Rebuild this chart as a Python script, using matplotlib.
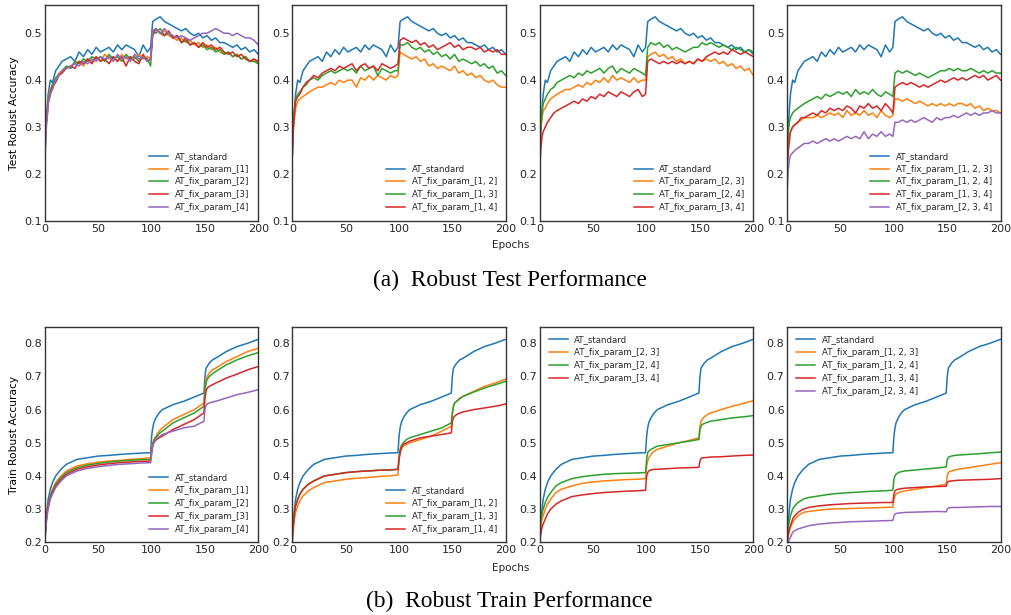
import matplotlib
matplotlib.use("Agg")
import matplotlib.pyplot as plt

plt.rcParams["font.family"] = ["DejaVu Sans"]
plt.rcParams["axes.edgecolor"] = "#333333"
plt.rcParams["text.color"] = "#262626"
plt.rcParams["xtick.color"] = "#262626"
plt.rcParams["ytick.color"] = "#262626"

# ---- robust test accuracy (top row) ----
test_epochs = [0, 1, 2, 3, 5, 7, 10, 13, 16,
               20, 24, 28, 32, 36, 40, 44, 48, 52, 56, 60, 64, 68, 72, 76, 80, 84, 88, 92, 96,
               99, 101,
               104, 108, 112, 116, 120, 124, 128, 132, 136, 140, 144, 148, 152, 156, 160, 164,
               168, 172, 176, 180, 184, 188, 192, 196, 200]

test_standard = [0.24, 0.30, 0.34, 0.37, 0.40, 0.395, 0.42, 0.43, 0.44,
                 0.445, 0.45, 0.44, 0.46, 0.45, 0.465, 0.455, 0.47, 0.46, 0.465, 0.47, 0.46, 0.475, 0.465, 0.475, 0.47, 0.465, 0.45, 0.475, 0.46,
                 0.47, 0.525,
                 0.53, 0.535, 0.525, 0.52, 0.515, 0.51, 0.505, 0.51, 0.50, 0.495, 0.50, 0.49, 0.495, 0.485, 0.49, 0.48, 0.48, 0.475, 0.47, 0.475, 0.465, 0.47, 0.46, 0.465, 0.455]

test_p1 = [0.25, 0.30, 0.33, 0.36, 0.38, 0.39, 0.40, 0.415, 0.42,
           0.425, 0.43, 0.435, 0.44, 0.43, 0.445, 0.44, 0.45, 0.44, 0.455, 0.445, 0.45, 0.44, 0.455, 0.445, 0.45, 0.445, 0.455, 0.445, 0.45,
           0.445, 0.50,
           0.51, 0.50, 0.505, 0.495, 0.49, 0.485, 0.49, 0.48, 0.485, 0.475, 0.48, 0.47, 0.475, 0.465, 0.47, 0.46, 0.455, 0.46, 0.45, 0.455, 0.445, 0.45, 0.44, 0.445, 0.435]
test_p2 = [0.26, 0.31, 0.33, 0.36, 0.375, 0.39, 0.405, 0.41, 0.42,
           0.43, 0.425, 0.44, 0.435, 0.445, 0.44, 0.45, 0.445, 0.45, 0.44, 0.455, 0.445, 0.45, 0.44, 0.455, 0.445, 0.45, 0.44, 0.45, 0.445,
           0.43, 0.505,
           0.50, 0.51, 0.495, 0.50, 0.49, 0.495, 0.48, 0.485, 0.475, 0.48, 0.47, 0.475, 0.465, 0.47, 0.46, 0.465, 0.455, 0.46, 0.45, 0.455, 0.445, 0.45, 0.44, 0.44, 0.435]
test_p3 = [0.27, 0.31, 0.32, 0.35, 0.37, 0.385, 0.395, 0.41, 0.415,
           0.425, 0.43, 0.425, 0.44, 0.435, 0.445, 0.435, 0.45, 0.44, 0.445, 0.435, 0.45, 0.44, 0.45, 0.43, 0.45, 0.44, 0.435, 0.455, 0.44,
           0.445, 0.495,
           0.51, 0.50, 0.495, 0.505, 0.49, 0.495, 0.48, 0.49, 0.475, 0.48, 0.47, 0.48, 0.47, 0.475, 0.465, 0.47, 0.46, 0.455, 0.46, 0.45, 0.455, 0.445, 0.44, 0.445, 0.44]
test_p4 = [0.23, 0.29, 0.32, 0.35, 0.37, 0.38, 0.40, 0.41, 0.42,
           0.425, 0.43, 0.435, 0.43, 0.44, 0.435, 0.445, 0.44, 0.45, 0.445, 0.45, 0.44, 0.455, 0.445, 0.45, 0.44, 0.455, 0.445, 0.45, 0.44,
           0.445, 0.505,
           0.51, 0.50, 0.51, 0.50, 0.495, 0.49, 0.495, 0.49, 0.485, 0.49, 0.495, 0.50, 0.50, 0.505, 0.51, 0.505, 0.50, 0.50, 0.495, 0.50, 0.495, 0.49, 0.49, 0.485, 0.475]

test_p12 = [0.28, 0.30, 0.32, 0.34, 0.355, 0.36, 0.365, 0.37, 0.375,
            0.38, 0.385, 0.385, 0.39, 0.395, 0.39, 0.40, 0.395, 0.40, 0.40, 0.385, 0.405, 0.40, 0.41, 0.40, 0.41, 0.405, 0.40, 0.41, 0.405,
            0.41, 0.46,
            0.455, 0.45, 0.445, 0.45, 0.44, 0.445, 0.43, 0.435, 0.425, 0.43, 0.425, 0.42, 0.43, 0.415, 0.42, 0.41, 0.415, 0.405, 0.41, 0.40, 0.395, 0.40, 0.39, 0.385, 0.385]
test_p13 = [0.30, 0.32, 0.34, 0.36, 0.37, 0.375, 0.385, 0.39, 0.40,
            0.405, 0.40, 0.41, 0.415, 0.42, 0.415, 0.42, 0.425, 0.42, 0.425, 0.415, 0.43, 0.42, 0.425, 0.43, 0.41, 0.425, 0.42, 0.415, 0.42,
            0.42, 0.475,
            0.475, 0.48, 0.47, 0.465, 0.47, 0.46, 0.465, 0.455, 0.46, 0.45, 0.455, 0.445, 0.455, 0.44, 0.445, 0.44, 0.435, 0.44, 0.43, 0.435, 0.425, 0.43, 0.415, 0.42, 0.41]
test_p14 = [0.24, 0.30, 0.33, 0.355, 0.365, 0.37, 0.385, 0.395, 0.40,
            0.41, 0.405, 0.415, 0.42, 0.425, 0.42, 0.43, 0.425, 0.43, 0.435, 0.42, 0.43, 0.435, 0.425, 0.43, 0.42, 0.435, 0.43, 0.425, 0.43,
            0.435, 0.485,
            0.49, 0.485, 0.48, 0.485, 0.475, 0.48, 0.47, 0.475, 0.465, 0.47, 0.475, 0.48, 0.47, 0.475, 0.465, 0.47, 0.47, 0.465, 0.47, 0.46, 0.465, 0.46, 0.465, 0.455, 0.455]

test_p23 = [0.28, 0.30, 0.32, 0.335, 0.34, 0.35, 0.36, 0.365, 0.37,
            0.375, 0.38, 0.38, 0.385, 0.39, 0.385, 0.395, 0.39, 0.40, 0.395, 0.405, 0.395, 0.41, 0.40, 0.405, 0.40, 0.395, 0.405, 0.395, 0.40,
            0.40, 0.45,
            0.455, 0.46, 0.45, 0.455, 0.445, 0.45, 0.44, 0.445, 0.435, 0.44, 0.435, 0.445, 0.44, 0.445, 0.44, 0.445, 0.435, 0.44, 0.43, 0.435, 0.425, 0.43, 0.42, 0.425, 0.41]
test_p24 = [0.27, 0.31, 0.33, 0.35, 0.36, 0.37, 0.38, 0.385, 0.395,
            0.40, 0.405, 0.41, 0.405, 0.415, 0.41, 0.42, 0.415, 0.42, 0.425, 0.415, 0.425, 0.43, 0.415, 0.425, 0.42, 0.415, 0.425, 0.42, 0.415,
            0.41, 0.47,
            0.48, 0.475, 0.48, 0.47, 0.475, 0.465, 0.47, 0.465, 0.46, 0.465, 0.47, 0.47, 0.48, 0.475, 0.48, 0.475, 0.47, 0.475, 0.47, 0.465, 0.47, 0.465, 0.46, 0.465, 0.46]
test_p34 = [0.22, 0.26, 0.28, 0.29, 0.30, 0.31, 0.32, 0.33, 0.335,
            0.34, 0.345, 0.35, 0.355, 0.35, 0.36, 0.355, 0.365, 0.36, 0.37, 0.365, 0.375, 0.37, 0.365, 0.375, 0.37, 0.365, 0.375, 0.38, 0.365,
            0.37, 0.44,
            0.445, 0.44, 0.435, 0.44, 0.435, 0.44, 0.435, 0.44, 0.435, 0.44, 0.435, 0.445, 0.44, 0.45, 0.455, 0.46, 0.455, 0.46, 0.455, 0.465, 0.46, 0.455, 0.46, 0.455, 0.45]

test_p123 = [0.23, 0.26, 0.28, 0.29, 0.30, 0.305, 0.31, 0.315, 0.32,
             0.32, 0.32, 0.325, 0.32, 0.325, 0.33, 0.325, 0.33, 0.32, 0.335, 0.325, 0.33, 0.325, 0.335, 0.325, 0.33, 0.32, 0.335, 0.325, 0.32,
             0.325, 0.36,
             0.36, 0.355, 0.36, 0.355, 0.35, 0.355, 0.35, 0.345, 0.35, 0.345, 0.35, 0.345, 0.35, 0.345, 0.35, 0.35, 0.345, 0.35, 0.34, 0.345, 0.335, 0.34, 0.335, 0.335, 0.33]
test_p124 = [0.26, 0.29, 0.31, 0.32, 0.33, 0.335, 0.34, 0.345, 0.35,
             0.355, 0.36, 0.365, 0.36, 0.37, 0.365, 0.37, 0.375, 0.37, 0.375, 0.365, 0.38, 0.37, 0.375, 0.37, 0.38, 0.37, 0.365, 0.375, 0.37,
             0.365, 0.415,
             0.42, 0.415, 0.42, 0.415, 0.41, 0.415, 0.41, 0.405, 0.41, 0.415, 0.42, 0.42, 0.425, 0.42, 0.425, 0.42, 0.42, 0.425, 0.42, 0.415, 0.42, 0.415, 0.42, 0.415, 0.415]
test_p134 = [0.21, 0.25, 0.27, 0.29, 0.30, 0.305, 0.31, 0.32, 0.32,
             0.325, 0.33, 0.325, 0.335, 0.33, 0.34, 0.335, 0.34, 0.335, 0.345, 0.34, 0.33, 0.345, 0.34, 0.35, 0.34, 0.345, 0.335, 0.35, 0.34,
             0.33, 0.385,
             0.39, 0.395, 0.39, 0.395, 0.39, 0.385, 0.39, 0.385, 0.39, 0.395, 0.40, 0.395, 0.40, 0.405, 0.40, 0.405, 0.40, 0.405, 0.41, 0.405, 0.41, 0.40, 0.405, 0.41, 0.40]
test_p234 = [0.17, 0.21, 0.23, 0.24, 0.245, 0.25, 0.255, 0.26, 0.265,
             0.265, 0.27, 0.265, 0.27, 0.275, 0.27, 0.275, 0.27, 0.275, 0.28, 0.275, 0.28, 0.275, 0.29, 0.275, 0.285, 0.28, 0.29, 0.28, 0.285,
             0.28, 0.31,
             0.31, 0.315, 0.31, 0.315, 0.31, 0.315, 0.32, 0.315, 0.31, 0.32, 0.315, 0.32, 0.32, 0.325, 0.32, 0.325, 0.33, 0.325, 0.33, 0.325, 0.33, 0.33, 0.335, 0.33, 0.33]

# ---- robust train accuracy (bottom row) ----
train_epochs = [0, 1, 2, 3, 5, 7, 10, 15, 20, 30, 40, 50, 60, 70, 80, 90, 99,
                100, 101, 102, 104, 107, 110, 120, 130, 140, 149,
                150, 151, 152, 154, 157, 160, 170, 180, 190, 200]

train_standard = [0.20, 0.26, 0.30, 0.33, 0.36, 0.38, 0.40, 0.42, 0.435, 0.45, 0.455, 0.46, 0.462, 0.465, 0.467, 0.469, 0.47,
                  0.52, 0.545, 0.56, 0.575, 0.59, 0.60, 0.615, 0.625, 0.638, 0.65,
                  0.70, 0.725, 0.73, 0.74, 0.75, 0.755, 0.775, 0.79, 0.80, 0.812]

train_p1 = [0.22, 0.26, 0.29, 0.31, 0.34, 0.36, 0.38, 0.40, 0.415, 0.43, 0.437, 0.442, 0.445, 0.447, 0.45, 0.452, 0.455,
            0.48, 0.50, 0.51, 0.52, 0.535, 0.545, 0.57, 0.585, 0.60, 0.62,
            0.665, 0.69, 0.70, 0.71, 0.72, 0.725, 0.745, 0.76, 0.775, 0.785]
train_p2 = [0.22, 0.26, 0.29, 0.31, 0.34, 0.355, 0.375, 0.395, 0.41, 0.425, 0.433, 0.438, 0.442, 0.445, 0.447, 0.449, 0.45,
            0.475, 0.495, 0.505, 0.515, 0.528, 0.535, 0.56, 0.575, 0.59, 0.61,
            0.655, 0.68, 0.69, 0.70, 0.708, 0.715, 0.735, 0.75, 0.762, 0.772]
train_p3 = [0.22, 0.26, 0.29, 0.31, 0.335, 0.35, 0.37, 0.39, 0.405, 0.42, 0.428, 0.433, 0.437, 0.44, 0.442, 0.444, 0.445,
            0.47, 0.49, 0.50, 0.508, 0.515, 0.52, 0.54, 0.555, 0.57, 0.59,
            0.635, 0.655, 0.665, 0.67, 0.675, 0.68, 0.695, 0.707, 0.72, 0.73]
train_p4 = [0.22, 0.25, 0.28, 0.30, 0.33, 0.345, 0.365, 0.385, 0.40, 0.415, 0.423, 0.428, 0.432, 0.435, 0.437, 0.439, 0.44,
            0.47, 0.49, 0.50, 0.51, 0.518, 0.525, 0.535, 0.545, 0.55, 0.565,
            0.60, 0.612, 0.617, 0.62, 0.623, 0.625, 0.635, 0.645, 0.652, 0.66]

train_p12 = [0.21, 0.24, 0.27, 0.29, 0.31, 0.325, 0.34, 0.355, 0.365, 0.38, 0.385, 0.39, 0.393, 0.395, 0.398, 0.40, 0.403,
             0.45, 0.47, 0.48, 0.49, 0.495, 0.50, 0.51, 0.52, 0.535, 0.55,
             0.59, 0.61, 0.62, 0.625, 0.635, 0.64, 0.655, 0.67, 0.68, 0.692]
train_p13 = [0.22, 0.26, 0.29, 0.31, 0.33, 0.345, 0.36, 0.375, 0.385, 0.40, 0.405, 0.41, 0.413, 0.415, 0.417, 0.418, 0.42,
             0.46, 0.48, 0.49, 0.50, 0.51, 0.515, 0.525, 0.535, 0.545, 0.56,
             0.59, 0.61, 0.62, 0.625, 0.633, 0.64, 0.653, 0.665, 0.675, 0.685]
train_p14 = [0.22, 0.26, 0.29, 0.31, 0.33, 0.345, 0.36, 0.375, 0.385, 0.40, 0.405, 0.41, 0.413, 0.415, 0.417, 0.418, 0.42,
             0.45, 0.47, 0.485, 0.495, 0.50, 0.505, 0.515, 0.52, 0.525, 0.53,
             0.565, 0.575, 0.58, 0.585, 0.59, 0.593, 0.60, 0.605, 0.61, 0.617]

train_p23 = [0.23, 0.25, 0.27, 0.28, 0.30, 0.315, 0.33, 0.35, 0.36, 0.37, 0.378, 0.382, 0.385, 0.387, 0.389, 0.39, 0.392,
             0.43, 0.445, 0.455, 0.465, 0.475, 0.48, 0.49, 0.50, 0.507, 0.515,
             0.55, 0.565, 0.57, 0.578, 0.585, 0.59, 0.60, 0.61, 0.618, 0.627]
train_p24 = [0.24, 0.27, 0.29, 0.30, 0.32, 0.335, 0.35, 0.37, 0.38, 0.392, 0.398, 0.402, 0.405, 0.407, 0.408, 0.409, 0.41,
             0.45, 0.47, 0.475, 0.48, 0.485, 0.49, 0.495, 0.50, 0.505, 0.51,
             0.54, 0.55, 0.555, 0.558, 0.562, 0.565, 0.57, 0.575, 0.578, 0.582]
train_p34 = [0.21, 0.23, 0.245, 0.255, 0.27, 0.285, 0.30, 0.315, 0.325, 0.338, 0.343, 0.347, 0.35, 0.352, 0.354, 0.355, 0.357,
             0.40, 0.41, 0.415, 0.418, 0.42, 0.42, 0.422, 0.424, 0.425, 0.426,
             0.445, 0.452, 0.455, 0.455, 0.456, 0.457, 0.458, 0.46, 0.462, 0.463]

train_p123 = [0.20, 0.22, 0.235, 0.245, 0.26, 0.27, 0.28, 0.29, 0.293, 0.297, 0.30, 0.301, 0.302, 0.303, 0.304, 0.305, 0.306,
              0.33, 0.34, 0.345, 0.35, 0.352, 0.355, 0.36, 0.365, 0.37, 0.375,
              0.40, 0.41, 0.413, 0.415, 0.418, 0.42, 0.425, 0.43, 0.435, 0.44]
train_p124 = [0.22, 0.245, 0.265, 0.28, 0.30, 0.31, 0.32, 0.33, 0.335, 0.34, 0.345, 0.348, 0.35, 0.352, 0.354, 0.355, 0.357,
              0.39, 0.40, 0.405, 0.41, 0.413, 0.415, 0.418, 0.421, 0.424, 0.427,
              0.45, 0.455, 0.458, 0.46, 0.462, 0.463, 0.465, 0.467, 0.47, 0.472]
train_p134 = [0.20, 0.225, 0.24, 0.25, 0.27, 0.28, 0.29, 0.30, 0.305, 0.31, 0.313, 0.315, 0.317, 0.318, 0.319, 0.32, 0.32,
              0.345, 0.355, 0.358, 0.36, 0.362, 0.363, 0.365, 0.367, 0.368, 0.369,
              0.38, 0.383, 0.384, 0.385, 0.386, 0.387, 0.388, 0.389, 0.39, 0.392]
train_p234 = [0.19, 0.20, 0.21, 0.215, 0.23, 0.235, 0.24, 0.245, 0.25, 0.255, 0.258, 0.26, 0.262, 0.263, 0.264, 0.265, 0.266,
              0.28, 0.285, 0.287, 0.288, 0.289, 0.29, 0.291, 0.292, 0.293, 0.292,
              0.30, 0.303, 0.304, 0.305, 0.305, 0.305, 0.306, 0.307, 0.308, 0.308]

# panel contents: (labels, series) per column
test_panels = [
    (["[1]", "[2]", "[3]", "[4]"], [test_p1, test_p2, test_p3, test_p4]),
    (["[1, 2]", "[1, 3]", "[1, 4]"], [test_p12, test_p13, test_p14]),
    (["[2, 3]", "[2, 4]", "[3, 4]"], [test_p23, test_p24, test_p34]),
    (["[1, 2, 3]", "[1, 2, 4]", "[1, 3, 4]", "[2, 3, 4]"], [test_p123, test_p124, test_p134, test_p234]),
]
train_panels = [
    (["[1]", "[2]", "[3]", "[4]"], [train_p1, train_p2, train_p3, train_p4]),
    (["[1, 2]", "[1, 3]", "[1, 4]"], [train_p12, train_p13, train_p14]),
    (["[2, 3]", "[2, 4]", "[3, 4]"], [train_p23, train_p24, train_p34]),
    (["[1, 2, 3]", "[1, 2, 4]", "[1, 3, 4]", "[2, 3, 4]"], [train_p123, train_p124, train_p134, train_p234]),
]
train_legend_loc = ["lower right", "lower right", "upper left", "upper left"]

colors = ["#1f77b4", "#ff7f0e", "#2ca02c", "#d62728", "#9467bd"]

fig = plt.figure(figsize=(10.11, 6.15), dpi=100)
lefts = [0.0445, 0.2892, 0.5341, 0.7787]
width = 0.211


def draw_panel(ax, epochs, standard, labels, series, ylim, yticks, loc):
    ax.plot(epochs, standard, color=colors[0], lw=1.1, label="AT_standard")
    for i, (lab, vals) in enumerate(zip(labels, series)):
        ax.plot(epochs, vals, color=colors[i + 1], lw=1.1, label="AT_fix_param_" + lab)
    ax.set_xlim(0, 200)
    ax.set_ylim(*ylim)
    ax.set_xticks([0, 50, 100, 150, 200])
    ax.set_yticks(yticks)
    ax.tick_params(length=0, labelsize=8, pad=2)
    for s in ax.spines.values():
        s.set_linewidth(1.0)
    ax.legend(loc=loc, frameon=False, fontsize=6.2, handlelength=2.2,
              labelspacing=0.45, borderaxespad=0.6)


for c in range(4):
    ax = fig.add_axes([lefts[c], 0.641, width, 0.3507])
    labels, series = test_panels[c]
    draw_panel(ax, test_epochs, test_standard, labels, series,
               (0.1, 0.56), [0.1, 0.2, 0.3, 0.4, 0.5], "lower right")
    if c == 0:
        ax.set_ylabel("Test Robust Accuracy", fontsize=7.7, labelpad=4)

for c in range(4):
    ax = fig.add_axes([lefts[c], 0.1182, width, 0.3506])
    labels, series = train_panels[c]
    draw_panel(ax, train_epochs, train_standard, labels, series,
               (0.2, 0.85), [0.2, 0.3, 0.4, 0.5, 0.6, 0.7, 0.8], train_legend_loc[c])
    if c == 0:
        ax.set_ylabel("Train Robust Accuracy", fontsize=7.7, labelpad=4)

fig.text(0.505, 1 - 245 / 615, "Epochs", ha="center", va="center", fontsize=7.5)
fig.text(0.505, 1 - 568 / 615, "Epochs", ha="center", va="center", fontsize=7.5)

fig.text(0.504, 1 - 280 / 615, "(a)  Robust Test Performance", ha="center", va="center",
         fontsize=16.8, family="Liberation Serif", color="black")
fig.text(0.504, 1 - 601 / 615, "(b)  Robust Train Performance", ha="center", va="center",
         fontsize=16.8, family="Liberation Serif", color="black")

fig.savefig("out.png", dpi=100)
